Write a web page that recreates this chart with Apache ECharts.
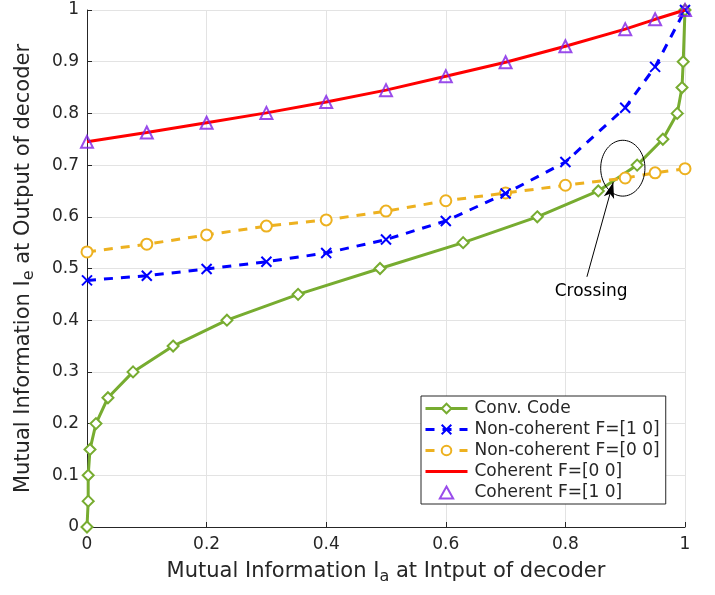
<!DOCTYPE html>
<html><head><meta charset="utf-8">
<script src="https://cdn.jsdelivr.net/npm/echarts@6/dist/echarts.min.js"></script>
<style>html,body{margin:0;padding:0;background:#fff}#c{width:715px;height:595px}</style>
</head><body><div id="c"></div>
<script>
// Data
const xTicks = [0, 0.2, 0.4, 0.6, 0.8, 1];
const yTicks = [0, 0.1, 0.2, 0.3, 0.4, 0.5, 0.6, 0.7, 0.8, 0.9, 1];
const convX = [0, 0.002, 0.002, 0.005, 0.015, 0.035, 0.077, 0.144, 0.234, 0.353, 0.49, 0.629, 0.753, 0.855, 0.92, 0.963, 0.987, 0.995, 0.997, 1.0];
const convY = [0, 0.05, 0.1, 0.15, 0.2, 0.25, 0.3, 0.35, 0.4, 0.45, 0.5, 0.55, 0.6, 0.65, 0.7, 0.75, 0.8, 0.85, 0.9, 1.0];
const ncX = [0, 0.1, 0.2, 0.3, 0.4, 0.5, 0.6, 0.7, 0.8, 0.9, 0.95, 1.0];
const nc10Y = [0.477, 0.486, 0.499, 0.513, 0.53, 0.556, 0.592, 0.645, 0.706, 0.811, 0.89, 1.0];
const nc00Y = [0.532, 0.547, 0.565, 0.582, 0.594, 0.611, 0.631, 0.646, 0.661, 0.675, 0.685, 0.693];
const cohX = [0, 0.1, 0.2, 0.3, 0.4, 0.5, 0.6, 0.7, 0.8, 0.9, 0.95, 1.0];
const coh00Y = [0.745, 0.763, 0.782, 0.801, 0.822, 0.845, 0.872, 0.899, 0.93, 0.963, 0.982, 1.0];
const coh10Y = [0.745, 0.763, 0.782, 0.801, 0.822, 0.845, 0.872, 0.899, 0.93, 0.963, 0.982, 1.0];
const seriesNames = ['Conv. Code', 'Non-coherent F=[1 0]', 'Non-coherent F=[0 0]', 'Coherent F=[0 0]', 'Coherent F=[1 0]'];
// annotation (data coords)
const ellipseCenter = [0.896, 0.694];
const ellipseR = [0.037, 0.054];
const arrowFrom = [0.836, 0.484];
const arrowTo = [0.88, 0.667];
const crossingLabelPos = [0.843, 0.456];

const zip = (xs, ys) => xs.map((x, i) => [x, ys[i]]);
const FONT = 'DejaVu Sans';
const TXT = '#262626';
const PURPLE = '#7F1FE6';

const nameRich = {
  a: { fontSize: 21, color: TXT, fontFamily: FONT, lineHeight: 24, verticalAlign: 'top' },
  s: { fontSize: 16, color: TXT, fontFamily: FONT, lineHeight: 18, padding: [11, 0, 0, 0], verticalAlign: 'bottom' }
};

const chart = echarts.init(document.getElementById('c'));
chart.setOption({
  animation: false,
  textStyle: { fontFamily: FONT },
  grid: { left: 87, right: 30, top: 10, bottom: 68, containLabel: false },
  xAxis: {
    type: 'value', min: 0, max: 1, interval: 0.2,
    name: '{a|Mutual Information I}{s|a}{a| at Intput of decoder}',
    nameLocation: 'middle', nameGap: 31,
    nameTextStyle: { rich: nameRich },
    axisLine: { lineStyle: { color: TXT, width: 1 } },
    axisTick: { inside: true, length: 5, lineStyle: { color: TXT } },
    axisLabel: { fontSize: 17, color: TXT, margin: 9, fontFamily: FONT },
    splitLine: { show: true, lineStyle: { color: '#e3e3e3', width: 1 } }
  },
  yAxis: {
    type: 'value', min: 0, max: 1, interval: 0.1,
    name: '{a|Mutual Information I}{s|e}{a| at Output of decoder}',
    nameLocation: 'middle', nameGap: 50, nameRotate: 90,
    nameTextStyle: { rich: nameRich },
    axisLine: { show: true, lineStyle: { color: TXT, width: 1 } },
    axisTick: { show: true, inside: true, length: 5, lineStyle: { color: TXT } },
    axisLabel: { fontSize: 17, color: TXT, margin: 8, fontFamily: FONT },
    splitLine: { show: true, lineStyle: { color: '#e3e3e3', width: 1 } }
  },
  legend: {
    orient: 'vertical', left: 421, top: 396,
    backgroundColor: '#fff', borderColor: '#262626', borderWidth: 1,
    padding: [4, 6, 3, 3], itemGap: 4, itemWidth: 42, itemHeight: 12,
    lineStyle: { width: 3 },
    textStyle: { fontSize: 17, color: TXT, fontFamily: FONT, padding: [0, 0, 0, 2] },
    data: [
      seriesNames[0], seriesNames[1], seriesNames[2],
      { name: seriesNames[3], itemStyle: { opacity: 0 } },
      { name: seriesNames[4], icon: 'path://M5,0L10,9L0,9Z' }
    ]
  },
  series: [
    { name: seriesNames[0], type: 'line', data: zip(convX, convY), z: 3,
      symbol: 'emptyDiamond', symbolSize: 11, showAllSymbol: true,
      lineStyle: { color: '#77AC30', width: 3 },
      itemStyle: { color: '#77AC30', borderColor: '#77AC30', borderWidth: 1.5 } },
    { name: seriesNames[1], type: 'line', data: zip(ncX, nc10Y), z: 4,
      symbol: 'path://M0,0L10,10M0,10L10,0', symbolSize: 10,
      lineStyle: { color: '#0000FF', width: 3, type: [9, 8] },
      itemStyle: { color: 'none', borderColor: '#0000FF', borderWidth: 2 } },
    { name: seriesNames[2], type: 'line', data: zip(ncX, nc00Y), z: 3,
      symbol: 'emptyCircle', symbolSize: 11,
      lineStyle: { color: '#EDB120', width: 3, type: [9, 8] },
      itemStyle: { color: '#EDB120', borderColor: '#EDB120', borderWidth: 1.5 },
      markLine: {
        silent: true, symbol: ['none', 'arrow'], symbolSize: [8, 16], label: { show: false },
        lineStyle: { color: '#000', width: 1, type: 'solid' },
        data: [[{ coord: arrowFrom }, { coord: arrowTo }]]
      } },
    { name: seriesNames[3], type: 'line', data: zip(cohX, coh00Y), z: 5,
      symbol: 'none', lineStyle: { color: '#FF0000', width: 3 },
      itemStyle: { color: '#FF0000' } },
    { name: seriesNames[4], type: 'scatter', data: zip(cohX, coh10Y), z: 6,
      symbol: 'triangle', symbolSize: 12,
      itemStyle: { color: 'rgba(255,255,255,0)', borderColor: PURPLE, borderWidth: 2 } }
  ]
});

function drawAnnot() {
  const c = chart.convertToPixel({ gridIndex: 0 }, ellipseCenter);
  const e = chart.convertToPixel({ gridIndex: 0 }, [ellipseCenter[0] + ellipseR[0], ellipseCenter[1] + ellipseR[1]]);
  const rx = Math.abs(e[0] - c[0]), ry = Math.abs(e[1] - c[1]);
  const pts = [];
  for (let i = 0; i < 72; i++) { const t = i / 72 * Math.PI * 2; pts.push([c[0] + rx * Math.cos(t), c[1] + ry * Math.sin(t)]); }
  const lp = chart.convertToPixel({ gridIndex: 0 }, crossingLabelPos);
  chart.setOption({ graphic: [
    { type: 'polygon', shape: { points: pts }, style: { fill: 'none', stroke: '#000', lineWidth: 1 }, z: 20 },
    { type: 'text', x: lp[0], y: lp[1], style: { text: 'Crossing', fontSize: 17, fontFamily: FONT, fill: '#000', align: 'center', verticalAlign: 'middle' }, z: 20 }
  ] });
}
drawAnnot();
</script></body></html>
